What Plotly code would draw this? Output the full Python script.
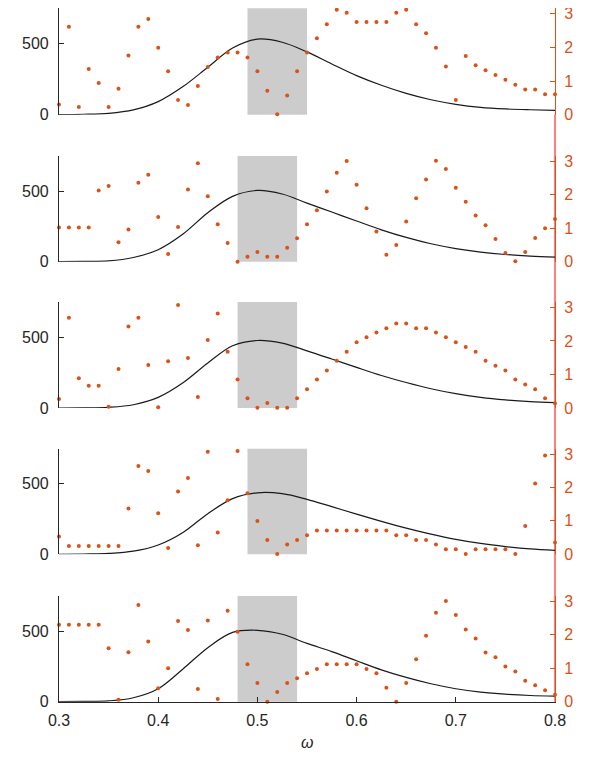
import plotly.graph_objects as go

# ---------------- data ----------------
omega_pts = [round(0.30 + 0.01 * i, 2) for i in range(51)]  # 0.30 ... 0.80
omega_curve = [0.30, 0.325, 0.35, 0.375, 0.40, 0.425, 0.45, 0.475, 0.50, 0.525, 0.55,
               0.575, 0.60, 0.625, 0.65, 0.675, 0.70, 0.725, 0.75, 0.775, 0.80]

curve1 = [1, 3, 10, 34, 92, 198, 334, 470, 532, 510, 442, 357, 275, 207, 150, 105, 73, 52, 41, 35, 31]
curve2 = [0, 2, 6, 30, 85, 196, 347, 463, 505, 480, 415, 352, 288, 226, 172, 127, 93, 68, 51, 40, 33]
curve3 = [0, 1, 5, 23, 75, 178, 318, 440, 477, 458, 404, 346, 287, 230, 180, 136, 101, 75, 57, 45, 38]
curve4 = [0, 2, 6, 22, 66, 155, 288, 395, 436, 430, 390, 338, 285, 234, 186, 143, 106, 77, 55, 38, 28]
curve5 = [0, 2, 6, 28, 92, 232, 383, 491, 506, 478, 413, 355, 290, 226, 172, 127, 92, 68, 53, 44, 40]

dots1 = [0.30, 2.61, 0.23, 1.36, 0.94, 0.23, 0.77, 1.76, 2.61, 2.84,
         1.99, 1.29, 0.44, 0.29, 0.85, 1.42, 1.70, 1.85, 1.85, 1.70,
         1.29, 0.71, 0.01, 0.57, 1.29, 1.85, 2.27, 2.69, 3.12, 3.03,
         2.75, 2.75, 2.75, 2.75, 3.03, 3.12, 2.69, 2.42, 1.99, 1.43,
         0.44, 1.74, 1.47, 1.32, 1.18, 1.04, 0.89, 0.75, 0.75, 0.61, 0.61]
dots2 = [1.02, 1.02, 1.02, 1.02, 2.13, 2.26, 0.58, 0.96, 2.36, 2.60,
         1.34, 0.23, 1.04, 2.16, 2.94, 1.96, 1.12, 0.56, 0.00, 0.15,
         0.29, 0.15, 0.15, 0.42, 0.70, 1.12, 1.54, 2.10, 2.66, 3.01,
         2.30, 1.60, 0.90, 0.21, 0.50, 1.20, 1.90, 2.46, 3.02, 2.77,
         2.21, 1.79, 1.38, 1.09, 0.68, 0.26, 0.01, 0.29, 0.71, 1.00, 1.28]
dots3 = [0.27, 2.69, 0.89, 0.66, 0.66, 0.04, 1.16, 2.43, 2.69, 1.28,
         0.02, 1.39, 3.07, 1.49, 0.33, 2.03, 2.82, 1.68, 0.85, 0.29,
         0.01, 0.15, 0.01, 0.01, 0.29, 0.56, 0.85, 1.12, 1.41, 1.68,
         1.96, 2.11, 2.25, 2.38, 2.52, 2.52, 2.38, 2.38, 2.25, 2.11,
         1.96, 1.82, 1.68, 1.41, 1.26, 1.12, 0.85, 0.70, 0.56, 0.29, 0.14]
dots4 = [0.53, 0.25, 0.25, 0.25, 0.25, 0.25, 0.25, 1.37, 2.64, 2.49,
         1.23, 0.19, 1.88, 2.28, 0.27, 3.07, 0.65, 1.62, 3.09, 1.83,
         1.00, 0.43, 0.01, 0.29, 0.43, 0.57, 0.71, 0.71, 0.71, 0.71,
         0.71, 0.71, 0.71, 0.71, 0.57, 0.57, 0.43, 0.43, 0.29, 0.15,
         0.15, 0.01, 0.15, 0.15, 0.15, 0.15, 0.01, 0.85, 2.12, 2.96, 0.35]
dots5 = [2.30, 2.30, 2.30, 2.30, 2.30, 1.60, 0.06, 1.48, 2.89, 1.80,
         0.40, 1.00, 2.41, 2.14, 0.38, 2.43, 0.08, 2.72, 2.09, 1.12,
         0.56, 0.00, 0.29, 0.56, 0.70, 0.85, 0.98, 1.12, 1.12, 1.12,
         1.12, 0.98, 0.85, 0.42, 0.00, 0.56, 1.27, 1.97, 2.66, 3.01,
         2.59, 2.16, 1.89, 1.47, 1.33, 1.05, 0.90, 0.63, 0.49, 0.34, 0.21]

bands = [(0.49, 0.55), (0.48, 0.54), (0.48, 0.54), (0.49, 0.55), (0.48, 0.54)]

curves = [curve1, curve2, curve3, curve4, curve5]
dots = [dots1, dots2, dots3, dots4, dots5]

x_ticks = [0.3, 0.4, 0.5, 0.6, 0.7, 0.8]
x_ticklabels = ["0.3", "0.4", "0.5", "0.6", "0.7", "0.8"]
left_ticks = [0, 500]
right_ticks = [0, 1, 2, 3]

# ---------------- figure ----------------
# The page body adds an 8px margin, so the figure is sized to fit inside the window.
W, H = 576, 744
OFF = 8
panel_page_px = [(8.3, 114.7), (156, 261.7), (302, 408), (448.7, 554.3), (596, 701.7)]
panel_px = [(t - OFF, b - OFF) for t, b in panel_page_px]

ORANGE = "#D95319"
DARK = "#262626"
FONT = "Liberation Sans, Arial, sans-serif"
FS = 16

fig = go.Figure()
layout = dict(
    width=W, height=H,
    margin=dict(l=59 - OFF, r=W - (555 - OFF), t=0, b=0, autoexpand=False),
    paper_bgcolor="white", plot_bgcolor="rgba(0,0,0,0)",
    showlegend=False,
    font=dict(family=FONT, size=FS, color=DARK),
    shapes=[], annotations=[],
)

for i in range(5):
    n = i + 1
    nr = i + 6
    top, bot = panel_px[i]
    dom = [1 - bot / H, 1 - top / H]
    xname = "xaxis" if n == 1 else f"xaxis{n}"
    yname = "yaxis" if n == 1 else f"yaxis{n}"
    xa = f"x{'' if n == 1 else n}"
    ya = f"y{'' if n == 1 else n}"
    yra = f"y{nr}"
    last = (i == 4)

    layout[xname] = dict(
        domain=[0, 1], range=[0.3, 0.8], anchor=ya, automargin=False,
        showgrid=False, zeroline=False,
        showline=last, linecolor=DARK, linewidth=1.2,
        ticks="inside" if last else "", ticklen=5, tickcolor=DARK,
        tickvals=x_ticks, ticktext=x_ticklabels,
        showticklabels=last, tickfont=dict(size=FS, color=DARK),
        ticklabelstandoff=4, ticklabeloverflow="allow",
    )
    layout[yname] = dict(
        domain=dom, range=[0, 749], anchor=xa, automargin=False,
        showgrid=False, zeroline=False,
        showline=True, linecolor=DARK, linewidth=1.2,
        ticks="inside", ticklen=5, tickcolor=DARK,
        tickvals=left_ticks, tickfont=dict(size=FS, color=DARK),
        ticklabelstandoff=6, ticklabeloverflow="allow",
    )
    layout[f"yaxis{nr}"] = dict(
        overlaying=ya, side="right", anchor=xa, automargin=False,
        range=[0, 3.16], showgrid=False, zeroline=False,
        showline=True, linecolor=ORANGE, linewidth=1.2,
        ticks="inside", ticklen=5, tickcolor=ORANGE,
        tickvals=right_ticks, tickfont=dict(size=FS, color=ORANGE),
        ticklabelstandoff=5, ticklabeloverflow="allow",
    )

    b0, b1 = bands[i]
    layout["shapes"].append(dict(
        type="rect", xref=xa, yref=f"{ya} domain",
        x0=b0, x1=b1, y0=0, y1=1,
        fillcolor="#CCCCCC", line=dict(width=0), layer="below",
    ))

    fig.add_trace(go.Scatter(
        x=omega_curve, y=curves[i], mode="lines",
        line=dict(color="#1a1a1a", width=1.2, shape="spline", smoothing=1.0),
        xaxis=xa, yaxis=ya, hoverinfo="skip",
    ))
    fig.add_trace(go.Scatter(
        x=omega_pts, y=dots[i], mode="markers",
        marker=dict(color=ORANGE, size=4),
        xaxis=xa, yaxis=yra, cliponaxis=False, hoverinfo="skip",
    ))

# red connecting line on the right edge between panels
layout["shapes"].append(dict(
    type="line", xref="paper", yref="paper",
    x0=1, x1=1, y0=1 - panel_px[4][1] / H, y1=1 - panel_px[0][1] / H,
    line=dict(color="#FF0000", width=1), layer="below",
))

layout["annotations"].append(dict(
    text="<i>ω</i>", xref="paper", yref="paper", x=0.5, y=0,
    showarrow=False, font=dict(size=FS, color=DARK, family=FONT),
    xanchor="center", yanchor="bottom", borderpad=0,
))

fig.update_layout(**layout)
fig.write_html("out.html")
